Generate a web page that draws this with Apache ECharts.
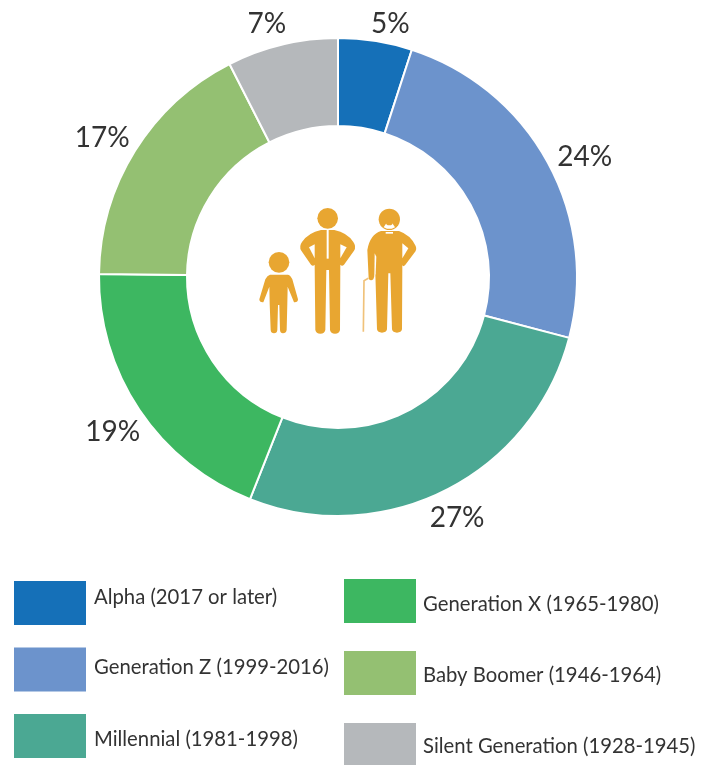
<!DOCTYPE html>
<html><head><meta charset="utf-8">
<style>html,body{margin:0;padding:0;background:#fff}#c{width:716px;height:765px}</style>
<script src="https://cdn.jsdelivr.net/npm/echarts@6/dist/echarts.min.js"></script>
</head><body><div id="c"></div>
<script>
const categories=['Alpha (2017 or later)','Generation Z (1999-2016)','Millennial (1981-1998)','Generation X (1965-1980)','Baby Boomer (1946-1964)','Silent Generation (1928-1945)'];
const shares=[5.0,24.1,26.9,19.2,17.3,7.5];
const shareLabels=['5%','24%','27%','19%','17%','7%'];
const colors=['#1570B8','#6C93CC','#4BA893','#3DB761','#94C072','#B5B8BB'];
const labelNudge=[[-12,-13],[-1,-4],[-25,24],[11,20],[5,-11],[12,-17]];
const legendTextPadding=[[0,0,12,3],[0,0,4,3],[6,0,0,3],[6,0,0,2],[4,0,0,2],[2,0,0,2]];
const FONT='Lato';
const ICON='#E8A631';
const chart=echarts.init(document.getElementById('c'),null,{renderer:'canvas'});
const legendRich={};
legendTextPadding.forEach((padding,i)=>{legendRich['t'+i]={padding,fontFamily:FONT,fontSize:20.3,color:'#333'};});
const legendBase={orient:'vertical',icon:'rect',itemWidth:72,itemHeight:44,padding:0,height:240,selectedMode:false,itemStyle:{borderWidth:0},
  formatter:name=>'{t'+categories.indexOf(name)+'|'+name+'}',
  textStyle:{fontFamily:FONT,fontSize:20.3,color:'#333',rich:legendRich}};
const paths={
 iconChild:'M90 254L144 254Q152 256 157 268L174 328Q174 338 162 337L143 290L142 340L140 420Q138 430 129 430Q121 430 120 420L118 345L114 345L112 420Q111 430 102 430Q93 430 92 420L89 340L88 290L70 337Q58 338 58 328L76 268Q82 256 90 254Z',
 iconMan:'M243 120L283 120Q322 128 340 156Q350 170 342 182L312 224Q306 230 301 224L300 420Q298 431 285 431Q272 431 270 420L267 240L259 240L256 420Q254 431 241 431Q228 431 226 420L224 224Q219 230 213 224L184 182Q176 170 186 156Q205 128 243 120Z',
 iconElder:'M423 123L477 123Q512 135 527 168Q532 180 522 190L495 226Q490 231 487 226L486 418Q484 428 471 428Q458 428 456 418L451 250L445 250L441 418Q439 428 426 428Q413 428 411 418L406 250L400 268Q392 275 386 266L382 180Q390 133 423 123Z'
};
Object.keys(paths).forEach(k=>echarts.graphic.registerShape(k,echarts.graphic.extendPath(paths[k],{})));
const white=(shape,type)=>({type,shape,style:{fill:'#fff'}});
const gold=(shape,type)=>({type,shape,style:{fill:ICON}});
chart.setOption({
  animation:false,
  backgroundColor:'#fff',
  legend:[
    Object.assign({},legendBase,{left:14,top:581,itemGap:22.5,data:categories.slice(0,3)}),
    Object.assign({},legendBase,{left:344,top:579,itemGap:28,data:categories.slice(3)})
  ],
  series:[{
    type:'pie',center:[338,277],radius:[151,239],startAngle:90,clockwise:true,
    color:colors,
    itemStyle:{borderColor:'#fff',borderWidth:2},
    label:{show:true,position:'outside',formatter:p=>shareLabels[p.dataIndex],fontFamily:FONT,fontSize:28,color:'#333'},
    labelLine:{show:false,length:4,length2:2},
    labelLayout:p=>({dx:labelNudge[p.dataIndex][0],dy:labelNudge[p.dataIndex][1]}),
    data:categories.map((name,i)=>({name,value:shares[i]}))
  }],
  graphic:[
    {type:'group',x:240,y:190,scaleX:1/3,scaleY:1/3,children:[
      gold({cx:117,cy:217,r:31},'circle'),
      gold({cx:263,cy:85,r:31},'circle'),
      gold({cx:448,cy:88,r:32},'circle'),
      {type:'iconChild',style:{fill:ICON}},
      {type:'iconMan',style:{fill:ICON}},
      {type:'iconElder',style:{fill:ICON}},
      white({x:260,y:118,width:6,height:88},'rect'),
      white({points:[[207,172],[224,163],[224,205]]},'polygon'),
      white({points:[[320,172],[301,163],[301,205]]},'polygon'),
      white({points:[[505,175],[487,160],[487,205]]},'polygon'),
      white({points:[[404,190],[409,200],[407,250],[403,262]]},'polygon'),
      white({points:[[431,112],[440,98],[456,98],[465,112],[455,116],[441,116]]},'polygon'),
      gold({cx:448,cy:95,r:11},'circle'),
      white({x:437,y:126,width:22,height:5},'rect'),
      {type:'polyline',shape:{points:[[370,425],[372,272],[385,265]]},style:{fill:'none',stroke:'#F0C27A',lineWidth:5}}
    ]},
    {type:'line',shape:{x1:373,y1:579,x2:373,y2:623},style:{stroke:'#fff',opacity:.45,lineWidth:1}},
    {type:'line',shape:{x1:373,y1:651,x2:373,y2:695},style:{stroke:'#fff',opacity:.45,lineWidth:1}},
    {type:'line',shape:{x1:373,y1:723,x2:373,y2:765},style:{stroke:'#fff',opacity:.45,lineWidth:1}}
  ]
});
</script></body></html>
